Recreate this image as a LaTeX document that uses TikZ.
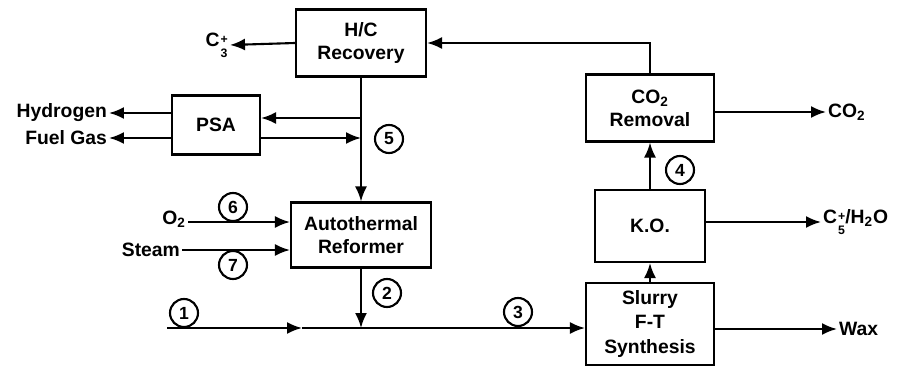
\documentclass[tikz,border=0pt]{standalone}
\usepackage{fontspec}
\setmainfont{Liberation Sans}
\usetikzlibrary{arrows.meta}
\tikzset{
  unit/.style={draw,line width=1.2pt,align=center,inner sep=2pt,font=\bfseries\fontsize{11}{13}\selectfont},
  strm/.style={circle,draw,line width=1.2pt,minimum size=0.56cm,inner sep=0pt,font=\bfseries\fontsize{10}{12}\selectfont},
  flow/.style={line width=1.2pt,-{Latex[length=3mm,width=2.4mm]}},
  tag/.style={inner sep=1pt,font=\bfseries\fontsize{11}{13}\selectfont}
}
\newcommand{\chm}[3]{#1\kern0.6pt\raisebox{-1.1ex}{\fontsize{7}{9}\selectfont\shortstack[l]{#3\\#2}}}

\begin{document}
\begin{tikzpicture}[x=0.02cm,y=-0.02cm]
\path[use as bounding box] (0,0) rectangle (923,368);
% process units
\node[unit,minimum width=2.6cm,minimum height=1.34cm] (hcr) at (361,43) {H/C\\Recovery};
\node[unit,minimum width=1.76cm,minimum height=1.18cm] (psa) at (216,125) {PSA};
\node[unit,minimum width=2.8cm,minimum height=1.3cm] (atr) at (361,235) {Autothermal\\Reformer};
\node[unit,minimum width=2.56cm,minimum height=1.64cm,font=\bfseries\fontsize{11}{14}\selectfont] (ftr) at (650,324) {Slurry\\F-T\\Synthesis};
\node[unit,minimum width=2.2cm,minimum height=1.44cm] (ko) at (650,226) {K.O.};
\node[unit,minimum width=2.56cm,minimum height=1.34cm] (cor) at (650,108) {CO\textsubscript{2}\\Removal};
% streams in and out
\node[tag,anchor=east] (c3p) at (230,45) {\chm{C}{3}{+}};
\node[tag,anchor=east] (h2) at (109,113) {Hydrogen};
\node[tag,anchor=east] (fg) at (109,138) {Fuel Gas};
\node[tag,anchor=east] (o2) at (188,219) {O\textsubscript{2}};
\node[tag,anchor=east] (stm) at (182,250) {Steam};
\node[tag,anchor=west] (co2) at (826,112) {CO\textsubscript{2}};
\node[tag,anchor=west] (kout) at (821,222) {\chm{C}{5}{+}/H\textsubscript{2}O};
\node[tag,anchor=west] (wax) at (837,329) {Wax};
\coordinate (j1) at (361,118);
\coordinate (j2) at (361,138);
\coordinate (feed) at (167,328);
\coordinate (mid) at (302,328);
\coordinate (mix) at (361,328);
% stream numbers
\node[strm] (s1) at (184,313) {1};
\node[strm] (s2) at (387,293) {2};
\node[strm] (s3) at (518,312) {3};
\node[strm] (s4) at (680,170) {4};
\node[strm] (s5) at (389,139) {5};
\node[strm] (s6) at (233,207) {6};
\node[strm] (s7) at (233,265) {7};
% connectors
\draw[flow] (cor.north) |- (hcr.east);
\draw[flow] (hcr.west) -- (c3p.east);
\draw[flow] (hcr.south) -- (atr.north);
\draw[flow] (j1) -- (psa.east |- j1);
\draw[flow] (psa.east |- j2) -- (j2);
\draw[flow] (psa.west |- h2) -- (h2.east);
\draw[flow] (psa.west |- fg) -- (fg.east);
\draw[flow] (o2.east |- 0,222) -- (atr.west |- 0,222);
\draw[flow] (stm.east) -- (atr.west |- stm);
\draw[flow] (atr.south) -- (mix);
\draw[flow] (feed) -- (mid);
\draw[flow] (mid) -- (ftr.west |- feed);
\draw[flow] (ftr.north) -- (ko.south);
\draw[flow] (ko.north) -- (cor.south);
\draw[flow] (cor.east |- co2) -- (co2.west);
\draw[flow] (ko.east |- kout) -- (kout.west);
\draw[flow] (ftr.east |- wax) -- (wax.west);
\end{tikzpicture}
\end{document}
